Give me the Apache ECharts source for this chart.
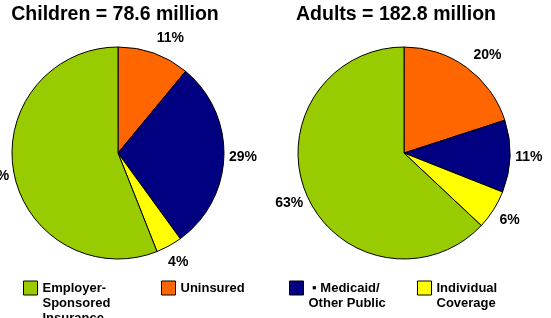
<!DOCTYPE html>
<html>
<head>
<meta charset="utf-8">
<script src="https://cdn.jsdelivr.net/npm/echarts@6/dist/echarts.min.js"></script>
<style>
html,body{margin:0;padding:0;background:#fff;}
#chart{width:551px;height:318px;}
</style>
</head>
<body>
<div id="chart"></div>
<script>
// ---- data ----
var categories = ['Employer-Sponsored Insurance', 'Uninsured', 'Medicaid/Other Public', 'Individual Coverage'];
var legendLabels = ['Employer-\nSponsored\nInsurance', 'Uninsured', ' \u25AA Medicaid/\nOther Public', 'Individual\nCoverage'];
// slice order as drawn (clockwise from 12 o'clock): Uninsured, Medicaid, Individual, Employer
var sliceOrder = [1, 2, 3, 0];
var childrenValues = [56, 11, 29, 4];   // by categories
var adultsValues = [63, 20, 11, 6];     // by categories
var titles = ['Children = 78.6 million', 'Adults = 182.8 million'];
var colors = ['#99CC00', '#FF6600', '#000080', '#FFFF00'];

var FONT = "'Liberation Sans', Arial, Helvetica, sans-serif";

function buildData(values) {
  return sliceOrder.map(function (i) {
    return { name: categories[i], value: values[i], itemStyle: { color: colors[i] } };
  });
}

function piePair(values, cx) {
  var data = buildData(values);
  return [
    {
      type: 'pie',
      center: [cx, 153],
      radius: [0, 106],
      startAngle: 90,
      clockwise: true,
      silent: true,
      label: { show: false },
      labelLine: { show: false },
      itemStyle: { borderColor: '#000', borderWidth: 1 },
      data: data,
      animation: false
    },
    {
      type: 'pie',
      center: [cx, 153],
      radius: [106, 138],
      startAngle: 90,
      clockwise: true,
      silent: true,
      itemStyle: { color: 'rgba(0,0,0,0)', borderWidth: 0 },
      label: {
        show: true,
        position: 'inside',
        formatter: '{c}%',
        color: '#000',
        fontFamily: FONT,
        fontWeight: 'bold',
        fontSize: 14
      },
      labelLayout: function (p) {
        return p.dataIndex === 0 ? { dx: 10, dy: 3 } : {};
      },
      labelLine: { show: false },
      data: data.map(function (d) { return { name: d.name, value: d.value, itemStyle: { color: 'rgba(0,0,0,0)' } }; }),
      animation: false
    }
  ];
}

var legendLefts = [23, 161, 289, 417];
var legendLines = [3, 1, 2, 2];
var LH = 15;

function blankLines(k) { var s = ''; for (var j = 0; j < k; j++) s += '\n'; return s; }

var legends = categories.map(function (name, i) {
  var n = legendLines[i];
  return {
    data: [name],
    left: legendLefts[i],
    top: 288 - ((2 * n - 1) * LH) / 2,
    orient: 'horizontal',
    padding: 0,
    itemWidth: 14,
    itemHeight: 14,
    icon: 'rect',
    selectedMode: false,
    itemStyle: { borderColor: '#000', borderWidth: 1 },
    formatter: function () { return blankLines(n - 1) + legendLabels[i]; },
    textStyle: {
      fontFamily: FONT,
      fontWeight: 'bold',
      fontSize: 13,
      color: '#000',
      lineHeight: LH
    }
  };
});

var chart = echarts.init(document.getElementById('chart'), null, { renderer: 'canvas' });
chart.setOption({
  backgroundColor: '#fff',
  animation: false,
  title: [
    { text: titles[0], left: 115, top: 5, textAlign: 'center', padding: 0,
      textStyle: { fontFamily: FONT, fontWeight: 'bold', fontSize: 19.5, color: '#000' } },
    { text: titles[1], left: 396, top: 5, textAlign: 'center', padding: 0,
      textStyle: { fontFamily: FONT, fontWeight: 'bold', fontSize: 19.5, color: '#000' } }
  ],
  legend: legends,
  series: piePair(childrenValues, 118).concat(piePair(adultsValues, 404))
});
</script>
</body>
</html>
